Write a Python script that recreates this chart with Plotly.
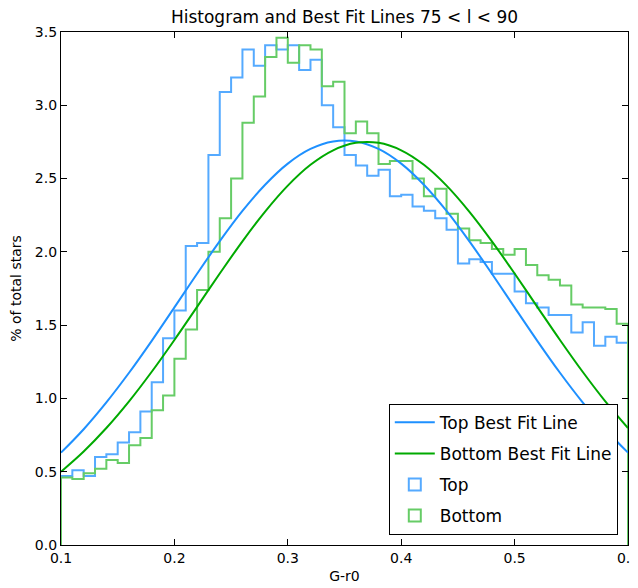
import plotly.graph_objects as go

# histogram bins: 0.10 .. 0.60, width 0.01
bin_edges = [round(0.10 + 0.01 * i, 2) for i in range(51)]

top_pct = [0.47, 0.51, 0.47, 0.60, 0.62, 0.70, 0.77, 0.91, 1.11, 1.41,
           1.60, 2.04, 2.06, 2.66, 3.09, 3.19, 3.38, 3.27, 3.41, 3.38,
           3.41, 3.24, 3.31, 3.00, 2.85, 2.66, 2.59, 2.52, 2.56, 2.38,
           2.39, 2.31, 2.28, 2.23, 2.15, 1.92, 1.95, 1.93, 1.85, 1.85,
           1.73, 1.65, 1.62, 1.57, 1.57, 1.45, 1.52, 1.36, 1.42, 1.38]

bottom_pct = [0.46, 0.45, 0.49, 0.52, 0.58, 0.56, 0.68, 0.73, 0.92, 1.02,
              1.27, 1.47, 1.74, 2.00, 2.23, 2.50, 2.88, 3.06, 3.33, 3.46,
              3.29, 3.41, 3.38, 3.13, 3.16, 2.81, 2.89, 2.81, 2.60, 2.62,
              2.62, 2.50, 2.38, 2.43, 2.26, 2.16, 2.08, 2.06, 2.02, 1.98,
              2.02, 1.91, 1.84, 1.81, 1.77, 1.64, 1.62, 1.62, 1.61, 1.51]

# best fit curves, every 0.02
fit_x = [round(0.10 + 0.02 * i, 2) for i in range(26)]
top_fit = [0.630, 0.790, 0.973, 1.175, 1.393, 1.621, 1.851, 2.073, 2.279, 2.458,
           2.602, 2.702, 2.753, 2.753, 2.702, 2.602, 2.458, 2.279, 2.073, 1.851,
           1.621, 1.393, 1.175, 0.973, 0.790, 0.630]
bottom_fit = [0.500, 0.638, 0.798, 0.980, 1.182, 1.399, 1.625, 1.852, 2.072, 2.275,
              2.452, 2.594, 2.693, 2.744, 2.744, 2.693, 2.594, 2.452, 2.275, 2.072,
              1.852, 1.625, 1.399, 1.182, 0.980, 0.798]

x_ticks = [0.1, 0.2, 0.3, 0.4, 0.5, 0.6]
y_ticks = [0.0, 0.5, 1.0, 1.5, 2.0, 2.5, 3.0, 3.5]

TOP_HIST = 'rgb(85,170,255)'
BOT_HIST = 'rgb(102,204,102)'


def step_outline(edges, vals):
    # matplotlib 'step' histogram outline, starting and ending on zero
    xs = [edges[0]] + edges[:-1] + [edges[-1], edges[-1]]
    ys = [0] + vals + [vals[-1], 0]
    return xs, ys


fig = go.Figure()

tx, ty = step_outline(bin_edges, top_pct)
bx, by = step_outline(bin_edges, bottom_pct)

fig.add_trace(go.Scatter(x=tx, y=ty, mode='lines', line_shape='hv', showlegend=False,
                         line=dict(color=TOP_HIST, width=2)))
fig.add_trace(go.Scatter(x=bx, y=by, mode='lines', line_shape='hv', showlegend=False,
                         line=dict(color=BOT_HIST, width=2)))
fig.add_trace(go.Scatter(x=fit_x, y=top_fit, mode='lines', line_shape='spline',
                         name='Top Best Fit Line', legendgroup='a',
                         line=dict(color='#1e90ff', width=2)))
fig.add_trace(go.Scatter(x=fit_x, y=bottom_fit, mode='lines', line_shape='spline',
                         name='Bottom Best Fit Line', legendgroup='b',
                         line=dict(color='#00aa00', width=2)))
# legend patches for the histograms
fig.add_trace(go.Bar(x=[None], y=[None], name='Top', legendgroup='c',
                     marker=dict(color='rgba(0,0,0,0)', line=dict(color=TOP_HIST, width=2))))
fig.add_trace(go.Bar(x=[None], y=[None], name='Bottom', legendgroup='d',
                     marker=dict(color='rgba(0,0,0,0)', line=dict(color=BOT_HIST, width=2))))

axis_common = dict(showline=True, linecolor='black', linewidth=1.2, mirror='ticks',
                   ticks='inside', ticklen=6, tickcolor='black', showgrid=False,
                   zeroline=False, automargin=False, tickformat='.1f',
                   ticklabeloverflow='allow',
                   tickfont=dict(size=14, color='black'))

# page body adds an 8px offset, so the figure is 8px smaller each way
fig.update_layout(
    width=630, height=580,
    margin=dict(l=53, r=10, t=24, b=43),
    paper_bgcolor='white', plot_bgcolor='white',
    font=dict(family='DejaVu Sans', color='black'),
    title=dict(text='Histogram and Best Fit Lines 75 < l < 90', x=0.5, xref='paper',
               xanchor='center', y=0.984, yref='container', yanchor='middle',
               font=dict(size=17)),
    xaxis=dict(range=[0.1, 0.6], tickvals=x_ticks,
               title=dict(text='G-r0', font=dict(size=14), standoff=6), **axis_common),
    yaxis=dict(range=[0, 3.5], tickvals=y_ticks,
               title=dict(text='% of total stars', font=dict(size=14), standoff=10),
               **axis_common),
    legend=dict(x=0.982, y=0.02, xanchor='right', yanchor='bottom',
                bgcolor='white', bordercolor='black', borderwidth=1,
                font=dict(size=17), itemwidth=40, tracegroupgap=6),
)

fig.write_html("out.html")
